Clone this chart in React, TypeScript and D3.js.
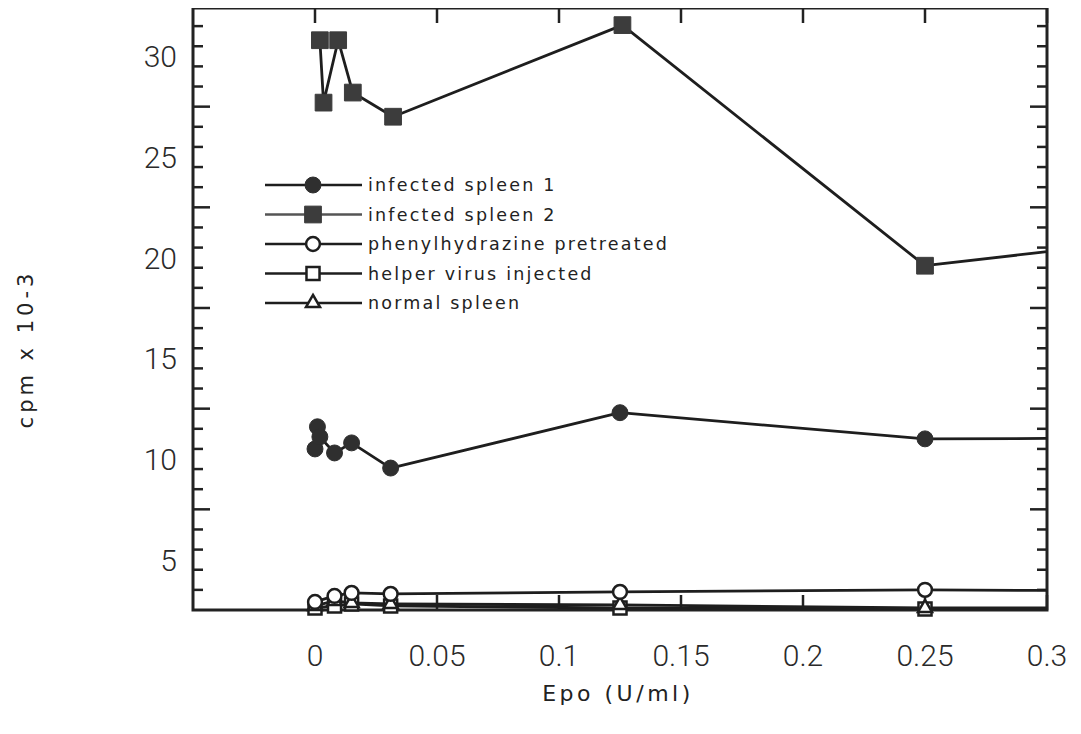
import React, { useEffect, useRef } from 'react';
import * as d3 from 'd3';

const WIDTH = 1081;
const HEIGHT = 734;

// Epo dose (U/ml) and cpm x 10-3
const spleen1Epo = [0, 0.001, 0.002, 0.008, 0.015, 0.031, 0.125, 0.25, 0.5];
const spleen1Cpm = [10.5, 11.6, 11.1, 10.3, 10.8, 9.55, 12.3, 11.0, 11.1];

const spleen2Epo = [0.002, 0.0035, 0.0095, 0.0155, 0.032, 0.126, 0.25, 0.5];
const spleen2Cpm = [30.8, 27.7, 30.8, 28.2, 27.0, 31.55, 19.6, 23.1];

const phenylEpo = [0, 0.008, 0.015, 0.031, 0.125, 0.25, 0.5];
const phenylCpm = [2.9, 3.2, 3.35, 3.3, 3.4, 3.5, 3.35];

const helperEpo = [0, 0.008, 0.015, 0.031, 0.125, 0.25, 0.5];
const helperCpm = [2.6, 2.7, 2.8, 2.7, 2.6, 2.55, 2.55];

const normalEpo = [0, 0.008, 0.015, 0.031, 0.125, 0.25, 0.5];
const normalCpm = [2.7, 2.95, 2.85, 2.8, 2.75, 2.6, 2.6];

const seriesNames = [
  'infected spleen 1',
  'infected spleen 2',
  'phenylhydrazine pretreated',
  'helper virus injected',
  'normal spleen',
];

const xTicks = [0, 0.05, 0.1, 0.15, 0.2, 0.25, 0.3];
const xTickLabels = ['0', '0.05', '0.1', '0.15', '0.2', '0.25', '0.3'];
const yTicks = [5, 10, 15, 20, 25, 30];

const plot = { left: 193, right: 1047, top: 8, bottom: 610 };

const series = [
  { name: seriesNames[0], xs: spleen1Epo, ys: spleen1Cpm, symbol: d3.symbolCircle, size: 200, filled: true, color: '#2f2f2f' },
  { name: seriesNames[1], xs: spleen2Epo, ys: spleen2Cpm, symbol: d3.symbolSquare, size: 280, filled: true, color: '#3c3c3c' },
  { name: seriesNames[2], xs: phenylEpo, ys: phenylCpm, symbol: d3.symbolCircle, size: 150, filled: false, color: '#1e1e1e' },
  { name: seriesNames[3], xs: helperEpo, ys: helperCpm, symbol: d3.symbolSquare, size: 170, filled: false, color: '#1e1e1e' },
  { name: seriesNames[4], xs: normalEpo, ys: normalCpm, symbol: d3.symbolTriangle, size: 85, filled: false, color: '#1e1e1e' },
];

const Chart = () => {
  const svgRef = useRef(null);

  useEffect(() => {
    const svg = d3.select(svgRef.current);
    svg.selectAll('*').remove();

    const x = d3.scaleLinear().domain([-0.05, 0.3]).range([plot.left, plot.right]);
    const y = d3.scaleLinear().domain([2.5, 32.4]).range([plot.bottom, plot.top]);

    svg.append('rect').attr('width', WIDTH).attr('height', HEIGHT).attr('fill', '#fff');

    svg
      .append('defs')
      .append('clipPath')
      .attr('id', 'plot-clip')
      .append('rect')
      .attr('x', plot.left)
      .attr('y', plot.top)
      .attr('width', plot.right - plot.left)
      .attr('height', plot.bottom - plot.top);

    const ink = '#222';

    // y ticks sit on the half units, longer every 5
    const yMinor = d3.range(3.5, 32, 1);
    const ticks = svg.append('g').attr('stroke', ink).attr('stroke-width', 2.5);
    yMinor.forEach((v) => {
      const major = (v - 2.5) % 5 === 0;
      const len = major ? 17 : 10;
      ticks.append('line').attr('x1', plot.left).attr('x2', plot.left + len).attr('y1', y(v)).attr('y2', y(v));
      ticks.append('line').attr('x1', plot.right).attr('x2', plot.right - len).attr('y1', y(v)).attr('y2', y(v));
    });
    xTicks.forEach((v) => {
      ticks.append('line').attr('x1', x(v)).attr('x2', x(v)).attr('y1', plot.top).attr('y2', plot.top + 15);
      ticks.append('line').attr('x1', x(v)).attr('x2', x(v)).attr('y1', plot.bottom).attr('y2', plot.bottom - 15);
    });

    svg
      .append('rect')
      .attr('x', plot.left)
      .attr('y', plot.top)
      .attr('width', plot.right - plot.left)
      .attr('height', plot.bottom - plot.top)
      .attr('fill', 'none')
      .attr('stroke', ink)
      .attr('stroke-width', 3);

    // tick labels
    const numFont = 'Roboto, "Liberation Sans", sans-serif';
    svg
      .append('g')
      .selectAll('text')
      .data(yTicks)
      .enter()
      .append('text')
      .attr('x', 177)
      .attr('y', (d) => y(d) + 11)
      .attr('text-anchor', 'end')
      .attr('font-family', numFont)
      .attr('font-weight', 300)
      .attr('font-size', 30)
      .attr('fill', '#2a2a2a')
      .text((d) => d);

    svg
      .append('g')
      .selectAll('text')
      .data(xTicks)
      .enter()
      .append('text')
      .attr('x', (d) => x(d))
      .attr('y', 666)
      .attr('text-anchor', 'middle')
      .attr('font-family', numFont)
      .attr('font-weight', 300)
      .attr('font-size', 30)
      .attr('fill', '#2a2a2a')
      .text((d, i) => xTickLabels[i]);

    const labelFont = '"DejaVu Sans", Verdana, sans-serif';
    svg
      .append('text')
      .attr('x', 618)
      .attr('y', 701)
      .attr('text-anchor', 'middle')
      .attr('font-family', labelFont)
      .attr('font-size', 22)
      .attr('letter-spacing', 3.5)
      .attr('fill', '#222')
      .text('Epo (U/ml)');

    svg
      .append('text')
      .attr('transform', 'translate(33,349) rotate(-90)')
      .attr('text-anchor', 'middle')
      .attr('font-family', labelFont)
      .attr('font-size', 21)
      .attr('letter-spacing', 4)
      .attr('fill', '#222')
      .text('cpm x 10-3');

    // series lines
    const line = d3
      .line()
      .x((d) => x(d[0]))
      .y((d) => y(d[1]));

    const lines = svg.append('g').attr('clip-path', 'url(#plot-clip)');
    series.forEach((s) => {
      const pts = s.xs.map((v, i) => [v, s.ys[i]]);
      lines
        .append('path')
        .attr('d', line(pts))
        .attr('fill', 'none')
        .attr('stroke', '#1e1e1e')
        .attr('stroke-width', 2.8)
        .attr('stroke-linejoin', 'round');
    });

    // markers, only inside the x range
    const marks = svg.append('g');
    [3, 4, 2, 0, 1].forEach((k) => {
      const s = series[k];
      const sym = d3.symbol().type(s.symbol).size(s.size);
      s.xs.forEach((v, i) => {
        if (v > 0.3) return;
        marks
          .append('path')
          .attr('d', sym())
          .attr('transform', `translate(${x(v)},${y(s.ys[i])})`)
          .attr('fill', s.filled ? s.color : '#fff')
          .attr('stroke', s.color)
          .attr('stroke-width', s.filled ? 1 : 2.5);
      });
    });

    // legend
    const legend = svg.append('g');
    series.forEach((s, i) => {
      const ly = 185 + i * 29.5;
      legend
        .append('line')
        .attr('x1', 265)
        .attr('x2', 362)
        .attr('y1', ly)
        .attr('y2', ly)
        .attr('stroke', i === 1 ? '#555' : '#1e1e1e')
        .attr('stroke-width', 2.5);
      const sym = d3.symbol().type(s.symbol).size(s.size);
      legend
        .append('path')
        .attr('d', sym())
        .attr('transform', `translate(313,${ly})`)
        .attr('fill', s.filled ? s.color : '#fff')
        .attr('stroke', s.color)
        .attr('stroke-width', s.filled ? 1 : 2.5);
      legend
        .append('text')
        .attr('x', 368)
        .attr('y', ly + 6)
        .attr('font-family', labelFont)
        .attr('font-size', 17.5)
        .attr('letter-spacing', 2.2)
        .attr('fill', '#222')
        .text(s.name);
    });
  }, []);

  return <svg ref={svgRef} width={WIDTH} height={HEIGHT} style={{ display: 'block' }}></svg>;
};

export default function App() {
  return (
    <div style={{ margin: -8 }}>
      <Chart />
    </div>
  );
}
